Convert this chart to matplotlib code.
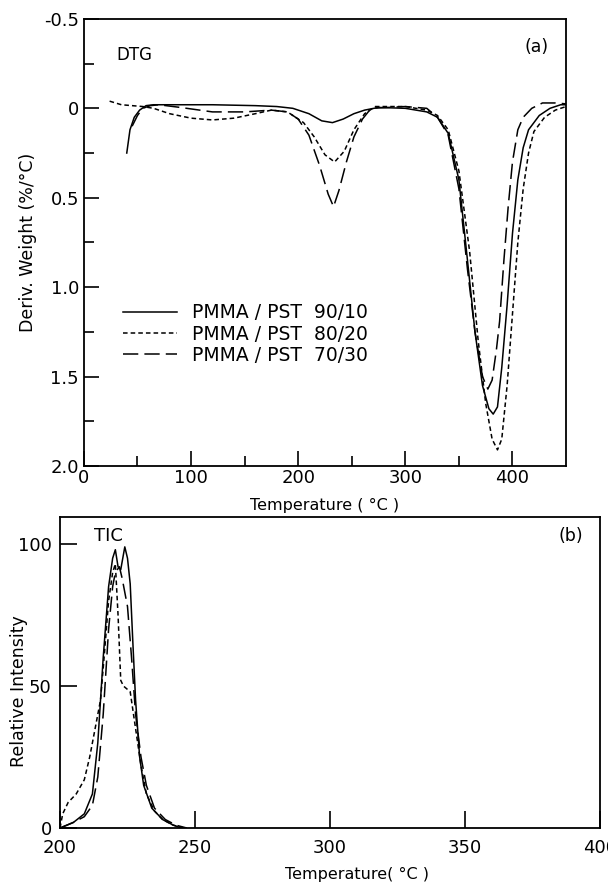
import matplotlib
matplotlib.use("Agg")
import matplotlib.pyplot as plt

plt.rcParams['font.family'] = ['DejaVu Sans']

# ---- (a) DTG curves : temperature (C) vs deriv. weight (%/C) ----
t_9010 = [40, 43, 47, 52, 58, 65, 80, 120, 160, 180, 195, 210, 222, 232, 242, 252, 262, 275, 300,
          320, 330, 340, 350, 358, 365, 372, 378, 382, 386, 390, 395, 400, 405, 410, 415, 425, 435, 445, 450]
d_9010 = [0.25, 0.12, 0.05, 0.01, -0.015, -0.02, -0.02, -0.02, -0.015, -0.01, 0.0, 0.03, 0.07, 0.08, 0.06,
          0.03, 0.01, -0.005, 0.0, 0.02, 0.05, 0.14, 0.4, 0.85, 1.25, 1.55, 1.68, 1.71, 1.67, 1.45, 1.1,
          0.7, 0.4, 0.22, 0.12, 0.04, 0.0, -0.02, -0.02]

t_8020 = [24, 35, 45, 55, 65, 80, 100, 120, 140, 160, 175, 190, 205, 215, 225, 234, 243, 252, 262, 272,
          300, 320, 330, 340, 350, 360, 368, 375, 381, 386, 390, 395, 400, 405, 410, 415, 420, 430, 440, 450]
d_8020 = [-0.04, -0.02, -0.015, -0.01, 0.0, 0.03, 0.055, 0.065, 0.055, 0.03, 0.01, 0.02, 0.08, 0.16, 0.26, 0.3,
          0.24, 0.12, 0.03, -0.01, -0.01, 0.01, 0.04, 0.12, 0.35, 0.8, 1.3, 1.65, 1.85, 1.91, 1.85, 1.55,
          1.15, 0.75, 0.45, 0.25, 0.13, 0.05, 0.01, -0.01]

t_7030 = [45, 50, 55, 62, 70, 90, 120, 150, 175, 190, 200, 210, 220, 228, 233, 238, 245, 252, 260, 268,
          300, 320, 330, 340, 350, 358, 365, 372, 377, 381, 385, 388, 392, 396, 400, 405, 410, 418, 428, 440, 450]
d_7030 = [0.1, 0.04, 0.0, -0.015, -0.02, -0.005, 0.02, 0.02, 0.01, 0.02, 0.06, 0.15, 0.32, 0.48, 0.55, 0.46,
          0.3, 0.16, 0.06, 0.0, -0.01, 0.0, 0.05, 0.15, 0.45, 0.9, 1.25, 1.5, 1.57, 1.52, 1.35, 1.19, 0.85,
          0.55, 0.3, 0.12, 0.05, 0.0, -0.03, -0.03, -0.025]

# ---- (b) TIC curves : temperature (C) vs relative intensity ----
tb_9010 = [200, 205, 209, 212, 214, 216, 218, 219.5, 220.5, 221.5, 222.5, 224, 225, 226, 227, 228,
           229.5, 231, 234, 238, 242, 245]
ib_9010 = [0, 2, 5, 12, 30, 60, 85, 95, 98, 92, 91, 99, 95, 86, 65, 45, 25, 15, 7, 3, 1, 0]

tb_8020 = [200, 201, 203, 206, 209, 211, 213, 215, 216.5, 218, 219.5, 220.5, 221.5, 222.5, 223.5,
           226, 228, 230, 232, 235, 238, 242, 246]
ib_8020 = [0, 5, 9, 12, 17, 25, 35, 45, 62, 80, 90, 93, 75, 52, 50, 48, 35, 22, 12, 6, 3, 1, 0]

tb_7030 = [200, 205, 209, 212, 214, 216, 218, 219.5, 220.5, 222, 223, 225, 226.5, 228, 230, 232,
           235, 239, 243, 247]
ib_7030 = [0, 2, 4, 8, 18, 40, 70, 85, 90, 92, 88, 78, 60, 40, 25, 15, 7, 3, 1, 0]

labels = ['PMMA / PST  90/10', 'PMMA / PST  80/20', 'PMMA / PST  70/30']

solid = '-'
short_dash = (0, (3, 2))
long_dash = (0, (10, 4))

fig = plt.figure(figsize=(6.08, 8.84), dpi=100)

### (a) DTG panel
ax1 = fig.add_axes([0.138, 0.4729, 0.793, 0.5057])
ax1.plot(t_9010, d_9010, color='black', lw=1.1, linestyle=solid, label=labels[0])
ax1.plot(t_8020, d_8020, color='black', lw=1.1, linestyle=short_dash, label=labels[1])
ax1.plot(t_7030, d_7030, color='black', lw=1.1, linestyle=long_dash, label=labels[2])
ax1.set_xlim(0, 450)
ax1.set_ylim(2.0, -0.5)
ax1.set_xticks([0, 100, 200, 300, 400])
ax1.set_xticks([50, 150, 250, 350], minor=True)
ax1.set_yticks([-0.5, 0, 0.5, 1.0, 1.5, 2.0])
ax1.set_yticklabels(['-0.5', '0', '0.5', '1.0', '1.5', '2.0'])
ax1.set_yticks([-0.25, 0.25, 0.75, 1.25, 1.75], minor=True)
ax1.tick_params(which='major', direction='in', length=11, width=1.2, labelsize=13)
ax1.tick_params(which='minor', direction='in', length=7, width=1.2)
ax1.tick_params(axis='x', pad=2)
ax1.set_xlabel('Temperature ( °C )', fontsize=11.5, labelpad=8)
ax1.set_ylabel('Deriv. Weight (%/°C)', fontsize=12.5)
ax1.yaxis.set_label_coords(-0.097, 0.5)
ax1.text(0.105, 0.92, 'DTG', transform=ax1.transAxes, fontsize=12, ha='center', va='center')
ax1.text(0.938, 0.937, '(a)', transform=ax1.transAxes, fontsize=12.5, ha='center', va='center')
ax1.legend(loc='center left', bbox_to_anchor=(0.062, 0.295), frameon=False, fontsize=13.5,
           handlelength=2.85, handletextpad=0.8, labelspacing=0.12, borderpad=0)
for s in ax1.spines.values():
    s.set_linewidth(1.3)

### (b) TIC panel
ax2 = fig.add_axes([0.0987, 0.0633, 0.888, 0.3518])
ax2.plot(tb_9010, ib_9010, color='black', lw=1.1, linestyle=solid)
ax2.plot(tb_8020, ib_8020, color='black', lw=1.1, linestyle=short_dash)
ax2.plot(tb_7030, ib_7030, color='black', lw=1.1, linestyle=long_dash)
ax2.set_xlim(200, 400)
ax2.set_ylim(0, 109.5)
ax2.set_xticks([200, 250, 300, 350, 400])
ax2.set_yticks([0, 50, 100])
ax2.tick_params(direction='in', length=12, width=1.2, labelsize=13)
ax2.tick_params(axis='x', pad=8)
ax2.tick_params(axis='y', pad=6)
ax2.set_xlabel('Temperature( °C )', fontsize=11.5)
ax2.xaxis.set_label_coords(0.55, -0.125)
ax2.set_ylabel('Relative Intensity', fontsize=12.5)
ax2.yaxis.set_label_coords(-0.06, 0.44)
ax2.text(0.09, 0.94, 'TIC', transform=ax2.transAxes, fontsize=13, ha='center', va='center')
ax2.text(0.946, 0.939, '(b)', transform=ax2.transAxes, fontsize=12.5, ha='center', va='center')
for s in ax2.spines.values():
    s.set_linewidth(1.3)

fig.savefig('out.png', dpi=100)
